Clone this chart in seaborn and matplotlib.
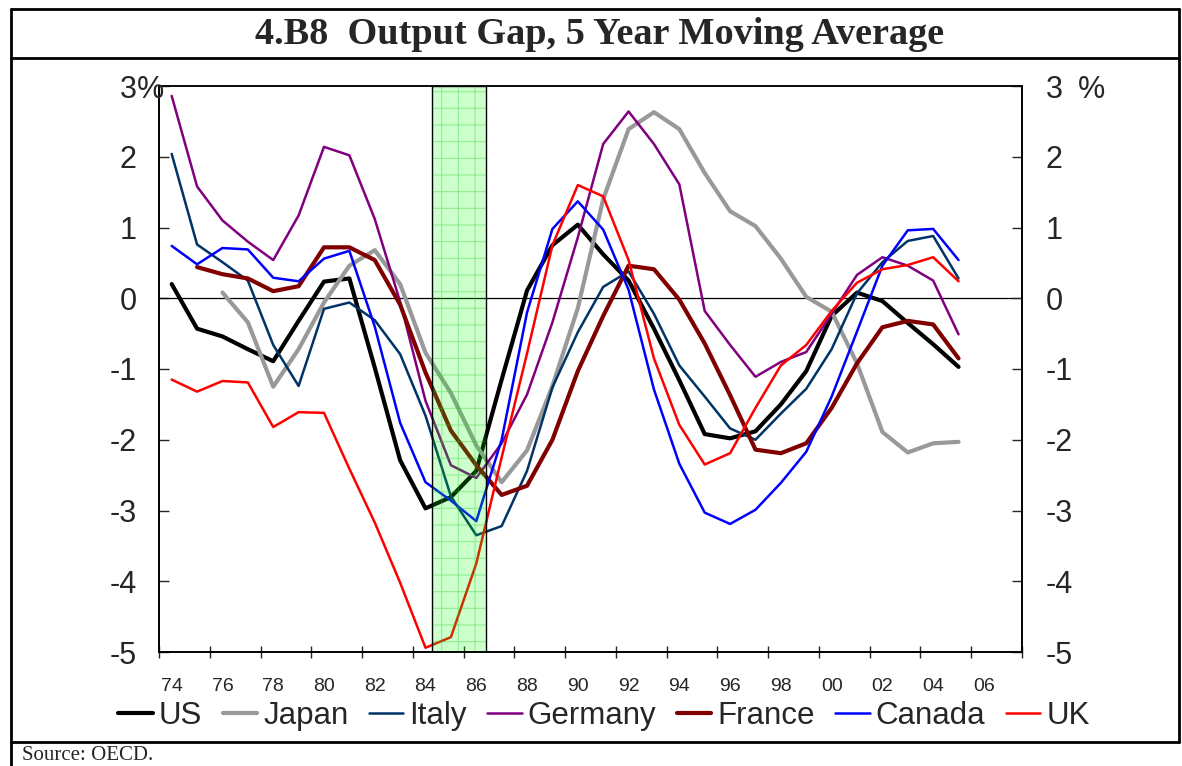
import matplotlib
matplotlib.use('Agg')
import matplotlib.pyplot as plt
import matplotlib.ticker as mticker
from matplotlib.lines import Line2D
from matplotlib.patches import Rectangle
import numpy as np
import pandas as pd
import seaborn as sns

sns.set_style('white')
plt.rcParams['font.family'] = ['Liberation Sans', 'DejaVu Sans']
plt.rcParams['hatch.linewidth'] = 0.8

years = list(range(1974, 2006))
nan = np.nan

us = [0.20, -0.43, -0.54, -0.72, -0.89, -0.32, 0.235, 0.28,
      -0.98, -2.29, -2.97, -2.81, -2.44, -1.15, 0.11, 0.75,
      1.04, 0.62, 0.25, -0.43, -1.16, -1.92, -1.98, -1.88,
      -1.50, -1.03, -0.25, 0.08, -0.04, -0.35, -0.65, -0.97]
japan = [nan, nan, 0.08, -0.34, -1.25, -0.72, -0.06, 0.46,
         0.68, 0.20, -0.77, -1.34, -2.08, -2.60, -2.15, -1.24,
         -0.14, 1.40, 2.39, 2.63, 2.39, 1.77, 1.23, 1.02,
         0.56, 0.02, -0.19, -0.92, -1.89, -2.18, -2.05, -2.03]
italy = [2.04, 0.76, 0.51, 0.25, -0.66, -1.24, -0.15, -0.06,
         -0.31, -0.79, -1.66, -2.80, -3.35, -3.22, -2.44, -1.26,
         -0.48, 0.16, 0.38, -0.22, -0.95, -1.39, -1.84, -2.00,
         -1.63, -1.28, -0.72, 0.07, 0.51, 0.81, 0.88, 0.28]
germany = [2.86, 1.58, 1.10, 0.80, 0.54, 1.17, 2.14, 2.02,
           1.12, -0.05, -1.45, -2.36, -2.54, -2.05, -1.36, -0.34,
           0.86, 2.18, 2.64, 2.18, 1.61, -0.18, -0.66, -1.11,
           -0.90, -0.76, -0.22, 0.33, 0.58, 0.46, 0.25, -0.51]
france = [nan, 0.44, 0.34, 0.28, 0.10, 0.17, 0.72, 0.72,
          0.54, -0.09, -1.05, -1.87, -2.36, -2.78, -2.65, -2.00,
          -1.03, -0.25, 0.46, 0.41, -0.02, -0.64, -1.37, -2.14,
          -2.19, -2.05, -1.55, -0.92, -0.41, -0.32, -0.37, -0.85]
canada = [0.74, 0.48, 0.71, 0.69, 0.29, 0.24, 0.56, 0.67,
          -0.40, -1.76, -2.60, -2.86, -3.15, -2.00, -0.20, 0.98,
          1.37, 0.97, 0.12, -1.29, -2.34, -3.03, -3.19, -2.99,
          -2.61, -2.17, -1.39, -0.47, 0.46, 0.96, 0.98, 0.54]
uk = [-1.15, -1.32, -1.17, -1.19, -1.82, -1.61, -1.62, -2.41,
      -3.17, -4.02, -4.94, -4.79, -3.75, -2.25, -0.78, 0.75,
      1.60, 1.44, 0.54, -0.85, -1.79, -2.35, -2.19, -1.55,
      -0.95, -0.66, -0.18, 0.22, 0.41, 0.47, 0.58, 0.24]

names = ['US', 'Japan', 'Italy', 'Germany', 'France', 'Canada', 'UK']
values = [us, japan, italy, germany, france, canada, uk]
colors = ['#000000', '#999999', '#003366', '#800080', '#800000', '#0000ff', '#ff0000']
widths = [3.0, 3.0, 1.8, 1.8, 3.0, 1.8, 1.8]

shade = (1984.27, 1986.37)
yticks = [-5, -4, -3, -2, -1, 0, 1, 2, 3]

fig = plt.figure(figsize=(11.82, 7.66), dpi=100)
W, H = 1182, 766
ax = fig.add_axes([159 / W, 1 - 652 / H, 863 / W, 566 / H])

for name, vals, col, lw in zip(names, values, colors, widths):
    d = pd.DataFrame({'year': years, 'gap': vals}).dropna()
    sns.lineplot(data=d, x='year', y='gap', color=col, linewidth=lw,
                 ax=ax, legend=False, zorder=2)

ax.axhline(0, color='black', linewidth=0.9, zorder=1)

# shaded period, drawn on top like the original
ax.axvspan(shade[0], shade[1], color='#00ff00', alpha=0.2, lw=0, zorder=3)
ax.axvspan(shade[0], shade[1], facecolor='none', edgecolor='#22cc22',
           hatch='+', lw=0, alpha=0.35, zorder=3)
ax.add_patch(Rectangle((shade[0], 0), shade[1] - shade[0], 1,
                       transform=ax.get_xaxis_transform(),
                       facecolor='none', edgecolor='black', lw=1, zorder=4))

ax.set_xlim(1973.5, 2007.5)
ax.set_ylim(-5, 3)
ax.set_xlabel('')
ax.set_ylabel('')

# x axis: labels centred on years, ticks on category boundaries
label_years = list(range(1974, 2007, 2))
ax.xaxis.set_major_locator(mticker.FixedLocator(label_years))
ax.xaxis.set_major_formatter(mticker.FuncFormatter(lambda v, p: '%02d' % (int(round(v)) % 100)))
ax.xaxis.set_minor_locator(mticker.FixedLocator(np.arange(1974.5, 2007, 2)))
ax.tick_params(axis='x', which='major', length=0, pad=19, labelsize=14)
ax.tick_params(axis='x', which='minor', direction='in', length=3.6, width=1)
sec = ax.secondary_xaxis(0)
sec.set_xticks(np.arange(1973.5, 2008, 2))
sec.tick_params(direction='inout', length=9, width=1, labelbottom=False)
sec.spines['bottom'].set_visible(False)

ax.set_yticks(yticks)
ax.set_yticklabels([str(t) for t in yticks])
ax.tick_params(axis='y', direction='in', length=7, width=1, pad=16, labelsize=22)

ax2 = ax.twinx()
ax2.set_ylim(-5, 3)
ax2.set_yticks(yticks)
ax2.set_yticklabels([str(t) for t in yticks])
ax2.tick_params(axis='y', direction='in', length=7, width=1, pad=17, labelsize=22)

for a in (ax, ax2):
    for s in a.spines.values():
        s.set_color('black')
        s.set_linewidth(1.2)
ax.spines['top'].set_color('#444444')

fig.text(137 / W, 1 - 90 / H, '%', fontsize=22, ha='left', va='center')
fig.text(1078 / W, 1 - 90 / H, '%', fontsize=22, ha='left', va='center')

handles = [Line2D([], [], color=c, lw=lw) for c, lw in zip(colors, widths)]
fig.legend(handles, names, loc='center', bbox_to_anchor=(604 / W, 1 - 716 / H),
           ncol=7, frameon=False, fontsize=22.5, handlelength=1.1,
           handletextpad=0.2, columnspacing=0.65, borderaxespad=0)

fig.text(0.507, 1 - 35 / H, '4.B8  Output Gap, 5 Year Moving Average',
         family='Liberation Serif', weight='bold', fontsize=27.5,
         ha='center', va='center')
fig.text(22 / W, 1 - 756 / H, 'Source: OECD.', family='Liberation Serif',
         fontsize=15, ha='left', va='center')

# outer frame
frame = dict(transform=fig.transFigure, color='black', lw=2)
x0, x1 = 11 / W, 1179 / W
fig.add_artist(Line2D([x0, x1], [1 - 9 / H, 1 - 9 / H], **frame))
fig.add_artist(Line2D([x0, x1], [1 - 58 / H, 1 - 58 / H], **frame))
fig.add_artist(Line2D([x0, x1], [1 - 742 / H, 1 - 742 / H], **frame))
fig.add_artist(Line2D([x0, x0], [0, 1 - 9 / H], **frame))
fig.add_artist(Line2D([x1, x1], [1 - 742 / H, 1 - 9 / H], **frame))

fig.savefig('out.png', dpi=100)
